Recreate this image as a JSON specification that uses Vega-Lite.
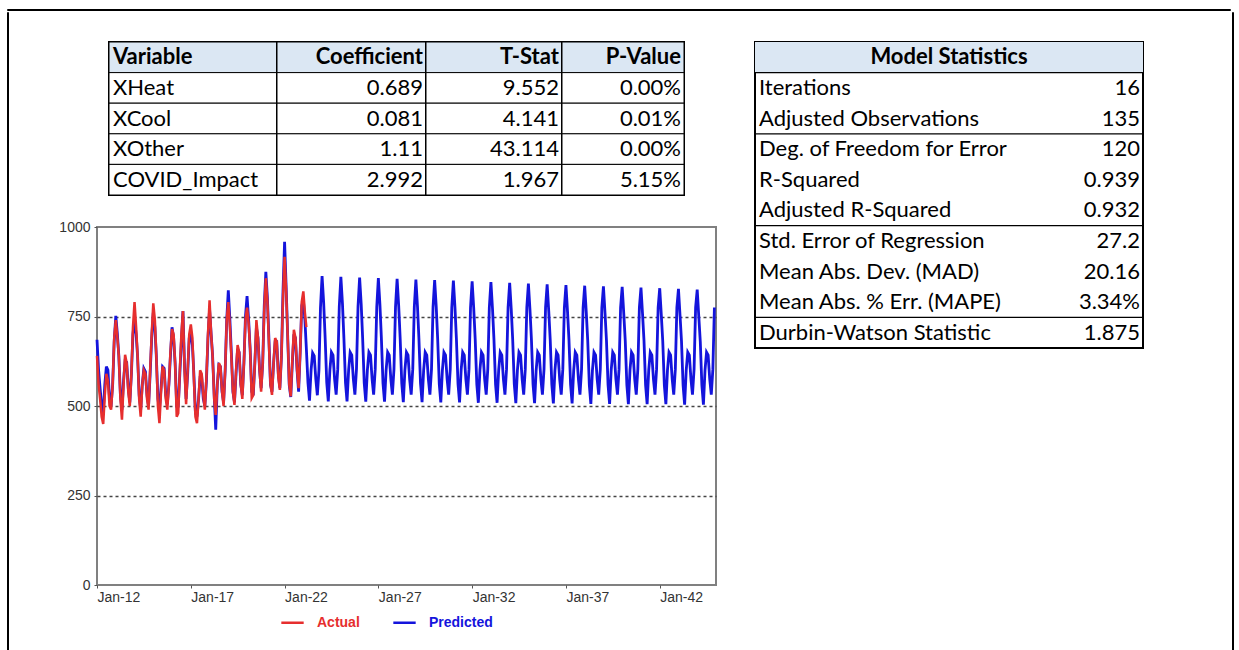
{
"$schema": "https://vega.github.io/schema/vega-lite/v6.json",
"background": "white",
"padding": {"left": 6, "top": 8, "right": 0, "bottom": 0},
"config": {"view": {"stroke": null}},
"datasets": {
"coef": [
{"Variable":"Variable","Coefficient":"Coefficient","T-Stat":"T-Stat","P-Value":"P-Value"},
{"Variable":"XHeat","Coefficient":"0.689","T-Stat":"9.552","P-Value":"0.00%"},
{"Variable":"XCool","Coefficient":"0.081","T-Stat":"4.141","P-Value":"0.01%"},
{"Variable":"XOther","Coefficient":"1.11","T-Stat":"43.114","P-Value":"0.00%"},
{"Variable":"COVID_Impact","Coefficient":"2.992","T-Stat":"1.967","P-Value":"5.15%"}
],
"stats": [
{"k":"Model Statistics","v":""},
{"k":"Iterations","v":"16"},
{"k":"Adjusted Observations","v":"135"},
{"k":"Deg. of Freedom for Error","v":"120"},
{"k":"R-Squared","v":"0.939"},
{"k":"Adjusted R-Squared","v":"0.932"},
{"k":"Std. Error of Regression","v":"27.2"},
{"k":"Mean Abs. Dev. (MAD)","v":"20.16"},
{"k":"Mean Abs. % Err. (MAPE)","v":"3.34%"},
{"k":"Durbin-Watson Statistic","v":"1.875"}
],
"ts": [
{"d":"2012-01-01","a":640,"p":685},{"d":"2012-02-01","a":560,"p":600},{"d":"2012-03-01","a":520,"p":550},{"d":"2012-04-01","a":470,"p":500},{"d":"2012-05-01","a":450,"p":480},{"d":"2012-06-01","a":530,"p":560},{"d":"2012-07-01","a":590,"p":610},{"d":"2012-08-01","a":570,"p":600},{"d":"2012-09-01","a":500,"p":520},{"d":"2012-10-01","a":490,"p":500},{"d":"2012-11-01","a":560,"p":560},{"d":"2012-12-01","a":690,"p":680},
{"d":"2013-01-01","a":740,"p":752},{"d":"2013-02-01","a":690,"p":700},{"d":"2013-03-01","a":640,"p":640},{"d":"2013-04-01","a":520,"p":530},{"d":"2013-05-01","a":462,"p":490},{"d":"2013-06-01","a":560,"p":570},{"d":"2013-07-01","a":643,"p":625},{"d":"2013-08-01","a":620,"p":622},{"d":"2013-09-01","a":540,"p":550},{"d":"2013-10-01","a":500,"p":510},{"d":"2013-11-01","a":590,"p":590},{"d":"2013-12-01","a":720,"p":700},
{"d":"2014-01-01","a":790,"p":740},{"d":"2014-02-01","a":720,"p":700},{"d":"2014-03-01","a":640,"p":640},{"d":"2014-04-01","a":520,"p":530},{"d":"2014-05-01","a":470,"p":490},{"d":"2014-06-01","a":560,"p":560},{"d":"2014-07-01","a":600,"p":605},{"d":"2014-08-01","a":590,"p":596},{"d":"2014-09-01","a":520,"p":530},{"d":"2014-10-01","a":490,"p":500},{"d":"2014-11-01","a":600,"p":590},{"d":"2014-12-01","a":700,"p":690},
{"d":"2015-01-01","a":787,"p":760},{"d":"2015-02-01","a":740,"p":720},{"d":"2015-03-01","a":640,"p":640},{"d":"2015-04-01","a":500,"p":520},{"d":"2015-05-01","a":452,"p":490},{"d":"2015-06-01","a":540,"p":550},{"d":"2015-07-01","a":610,"p":610},{"d":"2015-08-01","a":600,"p":605},{"d":"2015-09-01","a":520,"p":530},{"d":"2015-10-01","a":490,"p":505},{"d":"2015-11-01","a":560,"p":560},{"d":"2015-12-01","a":650,"p":640},
{"d":"2016-01-01","a":715,"p":720},{"d":"2016-02-01","a":700,"p":690},{"d":"2016-03-01","a":620,"p":620},{"d":"2016-04-01","a":470,"p":500},{"d":"2016-05-01","a":480,"p":500},{"d":"2016-06-01","a":600,"p":590},{"d":"2016-07-01","a":700,"p":680},{"d":"2016-08-01","a":765,"p":765},{"d":"2016-09-01","a":600,"p":610},{"d":"2016-10-01","a":505,"p":520},{"d":"2016-11-01","a":600,"p":590},{"d":"2016-12-01","a":700,"p":690},
{"d":"2017-01-01","a":728,"p":700},{"d":"2017-02-01","a":690,"p":670},{"d":"2017-03-01","a":580,"p":590},{"d":"2017-04-01","a":470,"p":480},{"d":"2017-05-01","a":452,"p":470},{"d":"2017-06-01","a":520,"p":520},{"d":"2017-07-01","a":600,"p":580},{"d":"2017-08-01","a":590,"p":580},{"d":"2017-09-01","a":530,"p":520},{"d":"2017-10-01","a":490,"p":500},{"d":"2017-11-01","a":580,"p":570},{"d":"2017-12-01","a":700,"p":690},
{"d":"2018-01-01","a":795,"p":770},{"d":"2018-02-01","a":700,"p":700},{"d":"2018-03-01","a":640,"p":640},{"d":"2018-04-01","a":520,"p":530},{"d":"2018-05-01","a":475,"p":434},{"d":"2018-06-01","a":560,"p":560},{"d":"2018-07-01","a":620,"p":615},{"d":"2018-08-01","a":610,"p":610},{"d":"2018-09-01","a":540,"p":540},{"d":"2018-10-01","a":500,"p":510},{"d":"2018-11-01","a":600,"p":600},{"d":"2018-12-01","a":740,"p":740},
{"d":"2019-01-01","a":790,"p":823},{"d":"2019-02-01","a":720,"p":740},{"d":"2019-03-01","a":640,"p":650},{"d":"2019-04-01","a":540,"p":540},{"d":"2019-05-01","a":503,"p":510},{"d":"2019-06-01","a":600,"p":590},{"d":"2019-07-01","a":670,"p":660},{"d":"2019-08-01","a":650,"p":650},{"d":"2019-09-01","a":560,"p":560},{"d":"2019-10-01","a":520,"p":530},{"d":"2019-11-01","a":620,"p":620},{"d":"2019-12-01","a":740,"p":750},
{"d":"2020-01-01","a":775,"p":807},{"d":"2020-02-01","a":730,"p":740},{"d":"2020-03-01","a":660,"p":660},{"d":"2020-04-01","a":522,"p":540},{"d":"2020-05-01","a":530,"p":530},{"d":"2020-06-01","a":620,"p":620},{"d":"2020-07-01","a":740,"p":720},{"d":"2020-08-01","a":690,"p":690},{"d":"2020-09-01","a":600,"p":600},{"d":"2020-10-01","a":540,"p":550},{"d":"2020-11-01","a":620,"p":620},{"d":"2020-12-01","a":770,"p":780},
{"d":"2021-01-01","a":857,"p":875},{"d":"2021-02-01","a":790,"p":800},{"d":"2021-03-01","a":680,"p":690},{"d":"2021-04-01","a":560,"p":560},{"d":"2021-05-01","a":531,"p":540},{"d":"2021-06-01","a":620,"p":620},{"d":"2021-07-01","a":690,"p":680},{"d":"2021-08-01","a":680,"p":680},{"d":"2021-09-01","a":580,"p":590},{"d":"2021-10-01","a":545,"p":550},{"d":"2021-11-01","a":640,"p":640},{"d":"2021-12-01","a":800,"p":820},
{"d":"2022-01-01","a":917,"p":959},{"d":"2022-02-01","a":820,"p":830},{"d":"2022-03-01","a":700,"p":700},{"d":"2022-04-01","a":560,"p":560},{"d":"2022-05-01","a":527,"p":525},{"d":"2022-06-01","a":630,"p":620},{"d":"2022-07-01","a":713,"p":700},{"d":"2022-08-01","a":690,"p":690},{"d":"2022-09-01","a":600,"p":600},{"d":"2022-10-01","a":550,"p":540},{"d":"2022-11-01","a":650,"p":650},{"d":"2022-12-01","a":790,"p":780},
{"d":"2023-01-01","a":820,"p":797},{"d":"2023-02-01","a":760,"p":740},{"d":"2023-03-01","a":720,"p":660},{"d":"2023-04-01","p":565},{"d":"2023-05-01","p":515},{"d":"2023-06-01","p":600},{"d":"2023-07-01","p":648},{"d":"2023-08-01","p":640},{"d":"2023-09-01","p":575},{"d":"2023-10-01","p":530},{"d":"2023-11-01","p":600},{"d":"2023-12-01","p":775},
{"d":"2024-01-01","p":863},{"d":"2024-02-01","p":788},{"d":"2024-03-01","p":690},{"d":"2024-04-01","p":565},{"d":"2024-05-01","p":513},{"d":"2024-06-01","p":600},{"d":"2024-07-01","p":650},{"d":"2024-08-01","p":642},{"d":"2024-09-01","p":575},{"d":"2024-10-01","p":532},{"d":"2024-11-01","p":603},{"d":"2024-12-01","p":778},
{"d":"2025-01-01","p":861},{"d":"2025-02-01","p":786},{"d":"2025-03-01","p":690},{"d":"2025-04-01","p":565},{"d":"2025-05-01","p":513},{"d":"2025-06-01","p":600},{"d":"2025-07-01","p":650},{"d":"2025-08-01","p":642},{"d":"2025-09-01","p":575},{"d":"2025-10-01","p":532},{"d":"2025-11-01","p":603},{"d":"2025-12-01","p":778},
{"d":"2026-01-01","p":859},{"d":"2026-02-01","p":784},{"d":"2026-03-01","p":689},{"d":"2026-04-01","p":564},{"d":"2026-05-01","p":512},{"d":"2026-06-01","p":600},{"d":"2026-07-01","p":650},{"d":"2026-08-01","p":642},{"d":"2026-09-01","p":575},{"d":"2026-10-01","p":532},{"d":"2026-11-01","p":603},{"d":"2026-12-01","p":777},
{"d":"2027-01-01","p":857},{"d":"2027-02-01","p":782},{"d":"2027-03-01","p":689},{"d":"2027-04-01","p":564},{"d":"2027-05-01","p":512},{"d":"2027-06-01","p":600},{"d":"2027-07-01","p":650},{"d":"2027-08-01","p":642},{"d":"2027-09-01","p":575},{"d":"2027-10-01","p":532},{"d":"2027-11-01","p":603},{"d":"2027-12-01","p":777},
{"d":"2028-01-01","p":855},{"d":"2028-02-01","p":780},{"d":"2028-03-01","p":688},{"d":"2028-04-01","p":563},{"d":"2028-05-01","p":511},{"d":"2028-06-01","p":600},{"d":"2028-07-01","p":650},{"d":"2028-08-01","p":642},{"d":"2028-09-01","p":575},{"d":"2028-10-01","p":532},{"d":"2028-11-01","p":603},{"d":"2028-12-01","p":777},
{"d":"2029-01-01","p":853},{"d":"2029-02-01","p":778},{"d":"2029-03-01","p":688},{"d":"2029-04-01","p":563},{"d":"2029-05-01","p":511},{"d":"2029-06-01","p":600},{"d":"2029-07-01","p":650},{"d":"2029-08-01","p":642},{"d":"2029-09-01","p":575},{"d":"2029-10-01","p":532},{"d":"2029-11-01","p":603},{"d":"2029-12-01","p":777},
{"d":"2030-01-01","p":852},{"d":"2030-02-01","p":777},{"d":"2030-03-01","p":687},{"d":"2030-04-01","p":562},{"d":"2030-05-01","p":510},{"d":"2030-06-01","p":600},{"d":"2030-07-01","p":650},{"d":"2030-08-01","p":642},{"d":"2030-09-01","p":575},{"d":"2030-10-01","p":532},{"d":"2030-11-01","p":603},{"d":"2030-12-01","p":776},
{"d":"2031-01-01","p":850},{"d":"2031-02-01","p":775},{"d":"2031-03-01","p":687},{"d":"2031-04-01","p":562},{"d":"2031-05-01","p":510},{"d":"2031-06-01","p":600},{"d":"2031-07-01","p":650},{"d":"2031-08-01","p":642},{"d":"2031-09-01","p":575},{"d":"2031-10-01","p":532},{"d":"2031-11-01","p":603},{"d":"2031-12-01","p":776},
{"d":"2032-01-01","p":848},{"d":"2032-02-01","p":773},{"d":"2032-03-01","p":686},{"d":"2032-04-01","p":561},{"d":"2032-05-01","p":509},{"d":"2032-06-01","p":600},{"d":"2032-07-01","p":650},{"d":"2032-08-01","p":642},{"d":"2032-09-01","p":575},{"d":"2032-10-01","p":532},{"d":"2032-11-01","p":603},{"d":"2032-12-01","p":776},
{"d":"2033-01-01","p":846},{"d":"2033-02-01","p":771},{"d":"2033-03-01","p":686},{"d":"2033-04-01","p":561},{"d":"2033-05-01","p":509},{"d":"2033-06-01","p":600},{"d":"2033-07-01","p":650},{"d":"2033-08-01","p":642},{"d":"2033-09-01","p":575},{"d":"2033-10-01","p":532},{"d":"2033-11-01","p":603},{"d":"2033-12-01","p":776},
{"d":"2034-01-01","p":844},{"d":"2034-02-01","p":769},{"d":"2034-03-01","p":685},{"d":"2034-04-01","p":561},{"d":"2034-05-01","p":508},{"d":"2034-06-01","p":600},{"d":"2034-07-01","p":650},{"d":"2034-08-01","p":642},{"d":"2034-09-01","p":575},{"d":"2034-10-01","p":532},{"d":"2034-11-01","p":603},{"d":"2034-12-01","p":776},
{"d":"2035-01-01","p":842},{"d":"2035-02-01","p":767},{"d":"2035-03-01","p":685},{"d":"2035-04-01","p":560},{"d":"2035-05-01","p":508},{"d":"2035-06-01","p":600},{"d":"2035-07-01","p":650},{"d":"2035-08-01","p":642},{"d":"2035-09-01","p":575},{"d":"2035-10-01","p":532},{"d":"2035-11-01","p":603},{"d":"2035-12-01","p":776},
{"d":"2036-01-01","p":840},{"d":"2036-02-01","p":765},{"d":"2036-03-01","p":684},{"d":"2036-04-01","p":560},{"d":"2036-05-01","p":507},{"d":"2036-06-01","p":600},{"d":"2036-07-01","p":650},{"d":"2036-08-01","p":642},{"d":"2036-09-01","p":575},{"d":"2036-10-01","p":532},{"d":"2036-11-01","p":603},{"d":"2036-12-01","p":775},
{"d":"2037-01-01","p":838},{"d":"2037-02-01","p":763},{"d":"2037-03-01","p":684},{"d":"2037-04-01","p":560},{"d":"2037-05-01","p":507},{"d":"2037-06-01","p":600},{"d":"2037-07-01","p":650},{"d":"2037-08-01","p":642},{"d":"2037-09-01","p":575},{"d":"2037-10-01","p":532},{"d":"2037-11-01","p":603},{"d":"2037-12-01","p":775},
{"d":"2038-01-01","p":836},{"d":"2038-02-01","p":761},{"d":"2038-03-01","p":683},{"d":"2038-04-01","p":559},{"d":"2038-05-01","p":506},{"d":"2038-06-01","p":600},{"d":"2038-07-01","p":650},{"d":"2038-08-01","p":642},{"d":"2038-09-01","p":575},{"d":"2038-10-01","p":532},{"d":"2038-11-01","p":603},{"d":"2038-12-01","p":775},
{"d":"2039-01-01","p":834},{"d":"2039-02-01","p":759},{"d":"2039-03-01","p":683},{"d":"2039-04-01","p":559},{"d":"2039-05-01","p":506},{"d":"2039-06-01","p":600},{"d":"2039-07-01","p":650},{"d":"2039-08-01","p":642},{"d":"2039-09-01","p":575},{"d":"2039-10-01","p":532},{"d":"2039-11-01","p":603},{"d":"2039-12-01","p":775},
{"d":"2040-01-01","p":833},{"d":"2040-02-01","p":758},{"d":"2040-03-01","p":682},{"d":"2040-04-01","p":559},{"d":"2040-05-01","p":505},{"d":"2040-06-01","p":600},{"d":"2040-07-01","p":650},{"d":"2040-08-01","p":642},{"d":"2040-09-01","p":575},{"d":"2040-10-01","p":532},{"d":"2040-11-01","p":603},{"d":"2040-12-01","p":775},
{"d":"2041-01-01","p":831},{"d":"2041-02-01","p":756},{"d":"2041-03-01","p":682},{"d":"2041-04-01","p":558},{"d":"2041-05-01","p":505},{"d":"2041-06-01","p":600},{"d":"2041-07-01","p":650},{"d":"2041-08-01","p":642},{"d":"2041-09-01","p":575},{"d":"2041-10-01","p":532},{"d":"2041-11-01","p":603},{"d":"2041-12-01","p":775},
{"d":"2042-01-01","p":829},{"d":"2042-02-01","p":754},{"d":"2042-03-01","p":681},{"d":"2042-04-01","p":558},{"d":"2042-05-01","p":505},{"d":"2042-06-01","p":600},{"d":"2042-07-01","p":650},{"d":"2042-08-01","p":642},{"d":"2042-09-01","p":575},{"d":"2042-10-01","p":532},{"d":"2042-11-01","p":603},{"d":"2042-12-01","p":775},
{"d":"2043-01-01","p":827},{"d":"2043-02-01","p":752},{"d":"2043-03-01","p":681},{"d":"2043-04-01","p":558},{"d":"2043-05-01","p":504},{"d":"2043-06-01","p":600},{"d":"2043-07-01","p":650},{"d":"2043-08-01","p":642},{"d":"2043-09-01","p":575},{"d":"2043-10-01","p":532},{"d":"2043-11-01","p":603},{"d":"2043-12-01","p":775},
{"d":"2044-01-01","p":825},{"d":"2044-02-01","p":750},{"d":"2044-03-01","p":680},{"d":"2044-04-01","p":558},{"d":"2044-05-01","p":504},{"d":"2044-06-01","p":600},{"d":"2044-07-01","p":650},{"d":"2044-08-01","p":642},{"d":"2044-09-01","p":575},{"d":"2044-10-01","p":532},{"d":"2044-11-01","p":603},{"d":"2044-12-01","p":775}
]
},
"spacing": 0,
"vconcat": [
{"width": 1223, "height": 1, "data": {"values": []}, "mark": "point", "view": {"stroke": "black", "strokeWidth": 1}},
{
"spacing": 48,
"hconcat": [
{"width": 1, "height": 641, "data": {"values": []}, "mark": "point", "view": {"stroke": "black", "strokeWidth": 1}},
{
"spacing": 86,
"hconcat": [
{
"spacing": 27,
"vconcat": [
{"width": 1, "height": 1, "data": {"values": []}, "mark": "point", "view": {"stroke": null}},
{
"spacing": 31,
"hconcat": [
{
"spacing": 22,
"resolve": {"scale": {"color": "independent"}},
"vconcat": [
{
"spacing": 0,
"bounds": "flush",
"hconcat": [
{"width": 12, "height": 153, "data": {"values": []}, "mark": "point", "view": {"stroke": null}},
{"width": 168, "height": 153, "view": {"stroke": "black", "strokeWidth": 2}, "data": {"name": "coef"},
 "encoding": {"y": {"field": "Variable", "type": "nominal", "scale": {"domain": ["Variable", "XHeat", "XCool", "XOther", "COVID_Impact"], "paddingInner": 0, "paddingOuter": 0}, "axis": null}},
 "layer": [
  {"mark": {"type": "rect", "stroke": "black", "strokeWidth": 1}, "encoding": {"x": {"datum": 0, "type": "quantitative", "scale": {"domain": [0, 1]}, "axis": null}, "x2": {"datum": 1}, "fill": {"condition": {"test": "datum.Variable === 'Variable'", "value": "#dbe7f3"}, "value": "white"}}},
  {"transform": [{"filter": "datum.Variable === 'Variable'"}], "mark": {"type": "text", "align": "left", "dx": 4, "font": "Lato", "fontSize": 22, "fontWeight": "bold", "color": "black"}, "encoding": {"x": {"datum": 0, "type": "quantitative", "axis": null}, "text": {"field": "Variable"}}},
  {"transform": [{"filter": "datum.Variable !== 'Variable'"}], "mark": {"type": "text", "align": "left", "dx": 4, "font": "Lato", "fontSize": 22, "color": "black"}, "encoding": {"x": {"datum": 0, "type": "quantitative", "axis": null}, "text": {"field": "Variable"}}}
 ]},
{"width": 149, "height": 153, "view": {"stroke": "black", "strokeWidth": 2}, "data": {"name": "coef"},
 "encoding": {"y": {"field": "Variable", "type": "nominal", "scale": {"domain": ["Variable", "XHeat", "XCool", "XOther", "COVID_Impact"], "paddingInner": 0, "paddingOuter": 0}, "axis": null}},
 "layer": [
  {"mark": {"type": "rect", "stroke": "black", "strokeWidth": 1}, "encoding": {"x": {"datum": 0, "type": "quantitative", "scale": {"domain": [0, 1]}, "axis": null}, "x2": {"datum": 1}, "fill": {"condition": {"test": "datum.Variable === 'Variable'", "value": "#dbe7f3"}, "value": "white"}}},
  {"transform": [{"filter": "datum.Variable === 'Variable'"}], "mark": {"type": "text", "align": "right", "dx": -3, "font": "Lato", "fontSize": 22, "fontWeight": "bold", "color": "black"}, "encoding": {"x": {"datum": 1, "type": "quantitative", "axis": null}, "text": {"field": "Coefficient"}}},
  {"transform": [{"filter": "datum.Variable !== 'Variable'"}], "mark": {"type": "text", "align": "right", "dx": -3, "font": "Lato", "fontSize": 22, "color": "black"}, "encoding": {"x": {"datum": 1, "type": "quantitative", "axis": null}, "text": {"field": "Coefficient"}}}
 ]},
{"width": 136, "height": 153, "view": {"stroke": "black", "strokeWidth": 2}, "data": {"name": "coef"},
 "encoding": {"y": {"field": "Variable", "type": "nominal", "scale": {"domain": ["Variable", "XHeat", "XCool", "XOther", "COVID_Impact"], "paddingInner": 0, "paddingOuter": 0}, "axis": null}},
 "layer": [
  {"mark": {"type": "rect", "stroke": "black", "strokeWidth": 1}, "encoding": {"x": {"datum": 0, "type": "quantitative", "scale": {"domain": [0, 1]}, "axis": null}, "x2": {"datum": 1}, "fill": {"condition": {"test": "datum.Variable === 'Variable'", "value": "#dbe7f3"}, "value": "white"}}},
  {"transform": [{"filter": "datum.Variable === 'Variable'"}], "mark": {"type": "text", "align": "right", "dx": -3, "font": "Lato", "fontSize": 22, "fontWeight": "bold", "color": "black"}, "encoding": {"x": {"datum": 1, "type": "quantitative", "axis": null}, "text": {"field": "T-Stat"}}},
  {"transform": [{"filter": "datum.Variable !== 'Variable'"}], "mark": {"type": "text", "align": "right", "dx": -3, "font": "Lato", "fontSize": 22, "color": "black"}, "encoding": {"x": {"datum": 1, "type": "quantitative", "axis": null}, "text": {"field": "T-Stat"}}}
 ]},
{"width": 122, "height": 153, "view": {"stroke": "black", "strokeWidth": 2}, "data": {"name": "coef"},
 "encoding": {"y": {"field": "Variable", "type": "nominal", "scale": {"domain": ["Variable", "XHeat", "XCool", "XOther", "COVID_Impact"], "paddingInner": 0, "paddingOuter": 0}, "axis": null}},
 "layer": [
  {"mark": {"type": "rect", "stroke": "black", "strokeWidth": 1}, "encoding": {"x": {"datum": 0, "type": "quantitative", "scale": {"domain": [0, 1]}, "axis": null}, "x2": {"datum": 1}, "fill": {"condition": {"test": "datum.Variable === 'Variable'", "value": "#dbe7f3"}, "value": "white"}}},
  {"transform": [{"filter": "datum.Variable === 'Variable'"}], "mark": {"type": "text", "align": "right", "dx": -3, "font": "Lato", "fontSize": 22, "fontWeight": "bold", "color": "black"}, "encoding": {"x": {"datum": 1, "type": "quantitative", "axis": null}, "text": {"field": "P-Value"}}},
  {"transform": [{"filter": "datum.Variable !== 'Variable'"}], "mark": {"type": "text", "align": "right", "dx": -3, "font": "Lato", "fontSize": 22, "color": "black"}, "encoding": {"x": {"datum": 1, "type": "quantitative", "axis": null}, "text": {"field": "P-Value"}}}
 ]}
]
},
{
"width": 619, "height": 358,
"view": {"stroke": "#808080", "strokeWidth": 2},
"data": {"name": "ts"},
"encoding": {
 "x": {"field": "d", "type": "temporal",
  "scale": {"type": "utc", "domain": [{"year": 2012, "month": 1, "date": 1, "utc": true}, {"year": 2045, "month": 1, "date": 1, "utc": true}]},
  "axis": {"title": null, "values": [{"year": 2012, "month": 1, "date": 1, "utc": true}, {"year": 2017, "month": 1, "date": 1, "utc": true}, {"year": 2022, "month": 1, "date": 1, "utc": true}, {"year": 2027, "month": 1, "date": 1, "utc": true}, {"year": 2032, "month": 1, "date": 1, "utc": true}, {"year": 2037, "month": 1, "date": 1, "utc": true}, {"year": 2042, "month": 1, "date": 1, "utc": true}],
   "labelExpr": "utcFormat(datum.value, '%b-%y')", "labelAlign": "left", "labelFont": "Liberation Sans", "labelFontSize": 14, "labelColor": "#333333", "labelPadding": 2, "tickSize": 3, "tickColor": "#555555", "domain": false, "grid": false}}
},
"layer": [
 {"mark": {"type": "line", "strokeWidth": 2.8},
  "encoding": {
   "y": {"field": "p", "type": "quantitative", "scale": {"domain": [0, 1000], "nice": false},
    "axis": {"title": null, "values": [0, 250, 500, 750, 1000], "format": "d", "grid": true, "gridDash": [3, 3], "gridColor": "#444444", "gridWidth": 1.5,
     "gridOpacity": {"condition": {"test": "datum.value === 0 || datum.value === 1000", "value": 0}, "value": 1},
     "domain": false, "tickSize": 3, "tickColor": "#555555", "labelPadding": 4, "labelFont": "Liberation Sans", "labelFontSize": 14, "labelColor": "#333333"}},
   "color": {"datum": "Predicted", "type": "nominal",
    "scale": {"domain": ["Actual", "Predicted"], "range": ["#e62e2e", "#1414dc"]},
    "legend": {"title": null, "orient": "none", "legendX": 183, "legendY": 383, "direction": "horizontal", "symbolType": "stroke", "symbolStrokeWidth": 2.5, "symbolSize": 500, "labelFont": "Liberation Sans", "labelFontSize": 14, "labelFontWeight": "bold", "columnPadding": 28, "labelOffset": 12,
     "encode": {"labels": {"update": {"fill": {"signal": "datum.value === 'Actual' ? '#e62e2e' : '#1414dc'"}}}}}}
  }},
 {"transform": [{"filter": "isValid(datum.a)"}],
  "mark": {"type": "line", "strokeWidth": 2.5},
  "encoding": {
   "y": {"field": "a", "type": "quantitative"},
   "color": {"datum": "Actual", "type": "nominal"}
  }}
]
}
]
},
{
"width": 388, "height": 306,
"view": {"stroke": "black", "strokeWidth": 2},
"data": {"name": "stats"},
"encoding": {"y": {"field": "k", "type": "nominal", "scale": {"domain": ["Model Statistics", "Iterations", "Adjusted Observations", "Deg. of Freedom for Error", "R-Squared", "Adjusted R-Squared", "Std. Error of Regression", "Mean Abs. Dev. (MAD)", "Mean Abs. % Err. (MAPE)", "Durbin-Watson Statistic"], "paddingInner": 0, "paddingOuter": 0}, "axis": null}},
"layer": [
 {"transform": [{"filter": "datum.k === 'Model Statistics'"}], "mark": {"type": "rect", "fill": "#dbe7f3"}, "encoding": {"x": {"datum": 0, "type": "quantitative", "scale": {"domain": [0, 1]}, "axis": null}, "x2": {"datum": 1}}},
 {"transform": [{"filter": {"field": "k", "oneOf": ["Model Statistics", "Adjusted Observations", "Adjusted R-Squared", "Mean Abs. % Err. (MAPE)"]}}], "mark": {"type": "rule", "color": "black", "strokeWidth": 1.2}, "encoding": {"y": {"field": "k", "type": "nominal", "bandPosition": 1}, "x": {"datum": 0, "type": "quantitative", "axis": null}, "x2": {"datum": 1}}},
 {"transform": [{"filter": "datum.k === 'Model Statistics'"}], "mark": {"type": "text", "align": "center", "font": "Lato", "fontSize": 22, "fontWeight": "bold", "color": "black"}, "encoding": {"x": {"datum": 0.5, "type": "quantitative", "axis": null}, "text": {"field": "k"}}},
 {"transform": [{"filter": "datum.k !== 'Model Statistics'"}], "mark": {"type": "text", "align": "left", "dx": 4, "font": "Lato", "fontSize": 22, "color": "black"}, "encoding": {"x": {"datum": 0, "type": "quantitative", "axis": null}, "text": {"field": "k"}}},
 {"transform": [{"filter": "datum.k !== 'Model Statistics'"}], "mark": {"type": "text", "align": "right", "dx": -3, "font": "Lato", "fontSize": 22, "color": "black"}, "encoding": {"x": {"datum": 1, "type": "quantitative", "axis": null}, "text": {"field": "v"}}}
]
}
]
}
]
},
{"width": 1, "height": 641, "data": {"values": []}, "mark": "point", "view": {"stroke": "black", "strokeWidth": 1}}
]
}
]
}
]
}
